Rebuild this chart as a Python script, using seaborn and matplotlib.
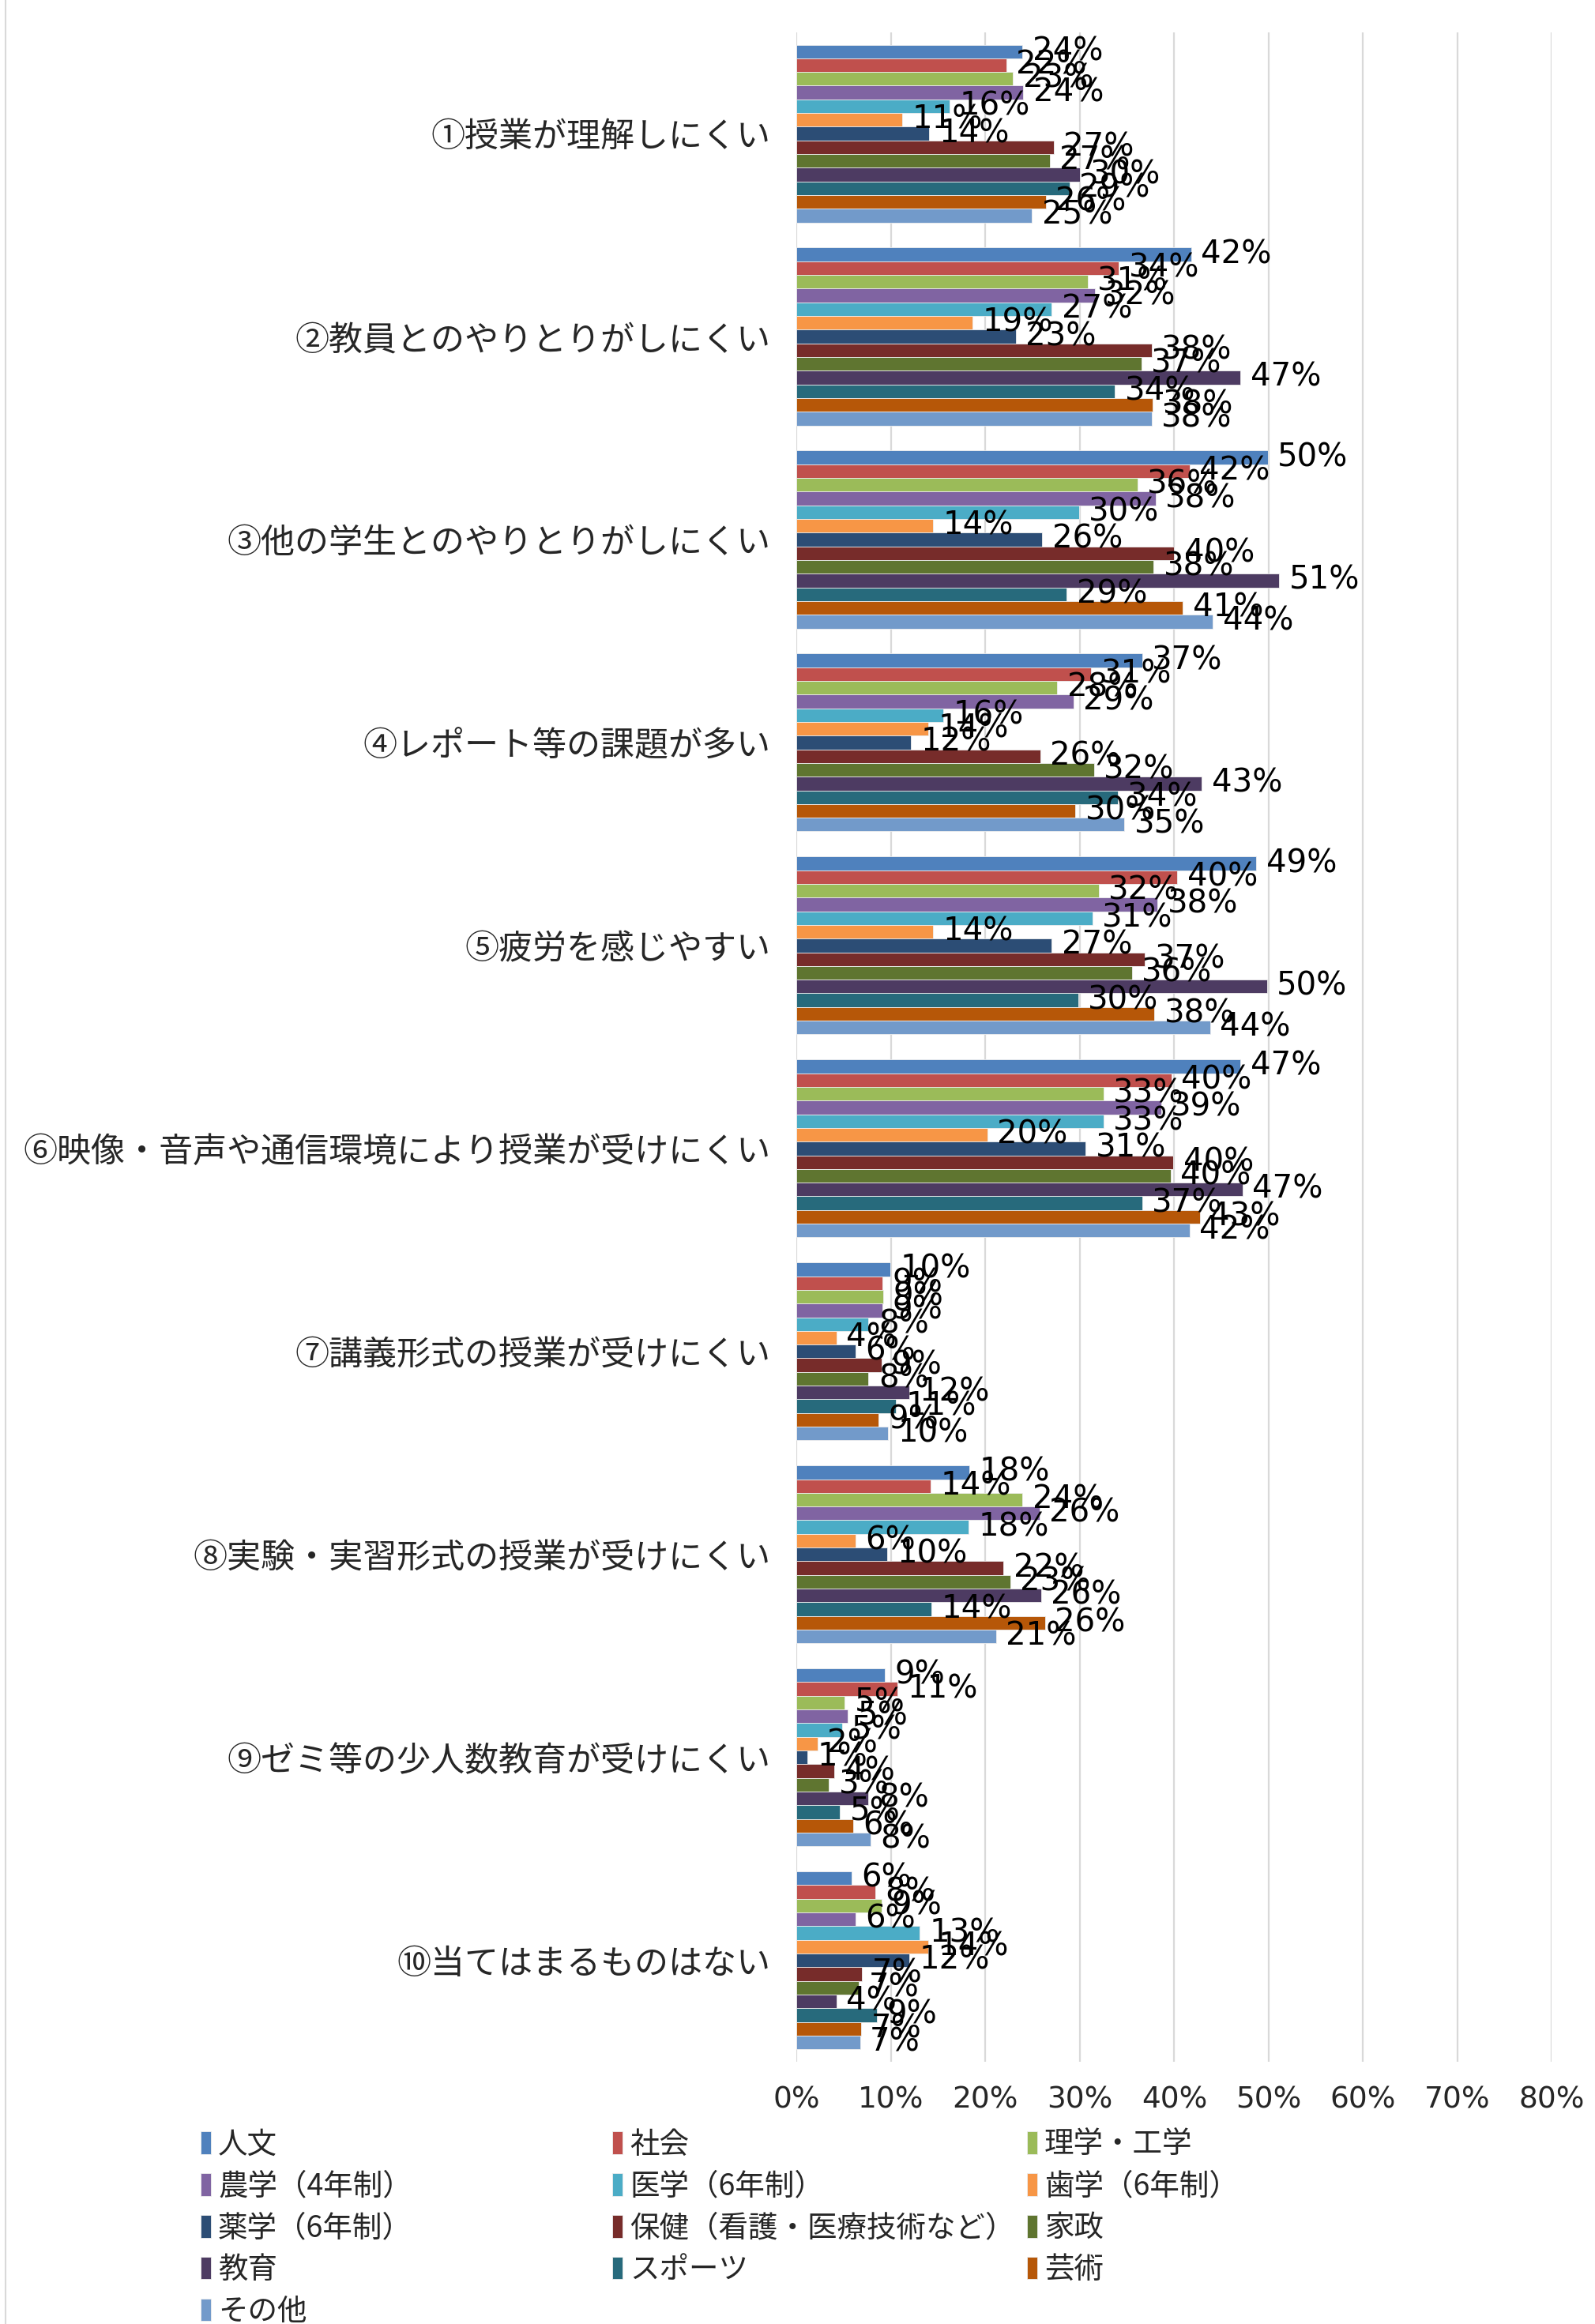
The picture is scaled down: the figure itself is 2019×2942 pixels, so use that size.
import pandas as pd
import seaborn as sns
from matplotlib import pyplot as plt
from matplotlib.lines import Line2D

categories = [
    "①授業が理解しにくい",
    "②教員とのやりとりがしにくい",
    "③他の学生とのやりとりがしにくい",
    "④レポート等の課題が多い",
    "⑤疲労を感じやすい",
    "⑥映像・音声や通信環境により授業が受けにくい",
    "⑦講義形式の授業が受けにくい",
    "⑧実験・実習形式の授業が受けにくい",
    "⑨ゼミ等の少人数教育が受けにくい",
    "⑩当てはまるものはない",
]

series = [
    "人文", "社会", "理学・工学", "農学（4年制）", "医学（6年制）", "歯学（6年制）",
    "薬学（6年制）", "保健（看護・医療技術など）", "家政", "教育", "スポーツ", "芸術", "その他",
]

colors = [
    "#4F81BD", "#C0504D", "#9BBB59", "#8064A2", "#4BACC6", "#F79646",
    "#2C4D75", "#772C2A", "#5F7530", "#4D3B62", "#276A7C", "#B65708", "#729ACA",
]

# 各設問ごとの割合（%）: 系列順 = series
values = {
    "人文":   [23.9, 41.8, 49.9, 36.6, 48.7, 47.0, 9.9, 18.3, 9.3, 5.8],
    "社会":   [22.2, 34.1, 41.6, 31.2, 40.3, 39.7, 9.1, 14.2, 10.7, 8.3],
    "理学・工学": [22.9, 30.8, 36.1, 27.6, 32.0, 32.5, 9.2, 23.9, 5.1, 9.0],
    "農学（4年制）": [24.0, 31.6, 38.0, 29.3, 38.2, 38.6, 9.1, 25.7, 5.4, 6.2],
    "医学（6年制）": [16.2, 27.0, 29.9, 15.5, 31.3, 32.5, 7.6, 18.2, 4.8, 13.0],
    "歯学（6年制）": [11.2, 18.6, 14.4, 13.9, 14.4, 20.2, 4.2, 6.2, 2.2, 13.9],
    "薬学（6年制）": [14.0, 23.2, 26.0, 12.1, 27.0, 30.6, 6.2, 9.6, 1.1, 11.9],
    "保健（看護・医療技術など）": [27.2, 37.6, 40.0, 25.8, 36.9, 39.9, 9.0, 21.9, 4.0, 6.9],
    "家政":   [26.8, 36.5, 37.8, 31.5, 35.5, 39.6, 7.6, 22.6, 3.4, 6.6],
    "教育":   [30.0, 47.0, 51.1, 42.9, 49.8, 47.2, 11.9, 25.9, 7.6, 4.2],
    "スポーツ": [28.9, 33.7, 28.6, 34.0, 29.8, 36.6, 10.5, 14.3, 4.6, 8.5],
    "芸術":   [26.4, 37.7, 40.9, 29.5, 37.9, 42.7, 8.7, 26.3, 6.0, 6.8],
    "その他": [24.9, 37.6, 44.1, 34.7, 43.8, 41.6, 9.7, 21.1, 7.8, 6.7],
}

x_ticks = [0, 10, 20, 30, 40, 50, 60, 70, 80]

rows = []
for name in series:
    for cat, v in zip(categories, values[name]):
        rows.append({"category": cat, "series": name, "value": v})
df = pd.DataFrame(rows)

sns.set_style("white")
plt.rcParams["font.family"] = ["Noto Sans CJK JP", "DejaVu Sans"]

fig = plt.figure(figsize=(20.19, 29.42), dpi=100)
ax = fig.add_axes([0.4995, 0.1128, 0.4735, 0.8734])

sns.barplot(
    data=df, y="category", x="value", hue="series",
    order=categories, hue_order=series, palette=colors, saturation=1,
    orient="h", width=0.876, ax=ax, errorbar=None,
    edgecolor="#EEEEEE", linewidth=0.6,
)

for container in ax.containers:
    labels = [f"{int(b.get_width() + 0.5)}%" for b in container]
    ax.bar_label(container, labels=labels, padding=9, fontsize=29,
                 family="DejaVu Sans", color="black")

ax.set_xlim(0, 80)
ax.set_xticks(x_ticks)
ax.set_xticklabels([f"{t}%" for t in x_ticks], family="DejaVu Sans", fontsize=27)
ax.tick_params(axis="x", length=0, pad=22)
ax.tick_params(axis="y", length=0, pad=24, labelsize=31)
ax.set_xlabel("")
ax.set_ylabel("")
ax.grid(axis="x", color="#D9D9D9", linewidth=1.6)
ax.set_axisbelow(True)
for side in ["top", "right", "bottom", "left"]:
    ax.spines[side].set_visible(False)

handles, labels = ax.get_legend_handles_labels()
ax.get_legend().remove()

col_x = [0.126, 0.384, 0.644]
for c in range(3):
    idx = list(range(c, len(series), 3))
    fig.legend(
        [handles[i] for i in idx], [labels[i] for i in idx],
        loc="upper left", bbox_to_anchor=(col_x[c], 0.0838),
        frameon=False, fontsize=27, handlelength=0.33, handleheight=0.8,
        handletextpad=0.25, labelspacing=0.37, borderpad=0, borderaxespad=0,
    )

fig.add_artist(Line2D([0.0035, 0.0035], [0, 1], color="#D9D9D9", linewidth=1.5))

plt.savefig("out.png", dpi=100)
